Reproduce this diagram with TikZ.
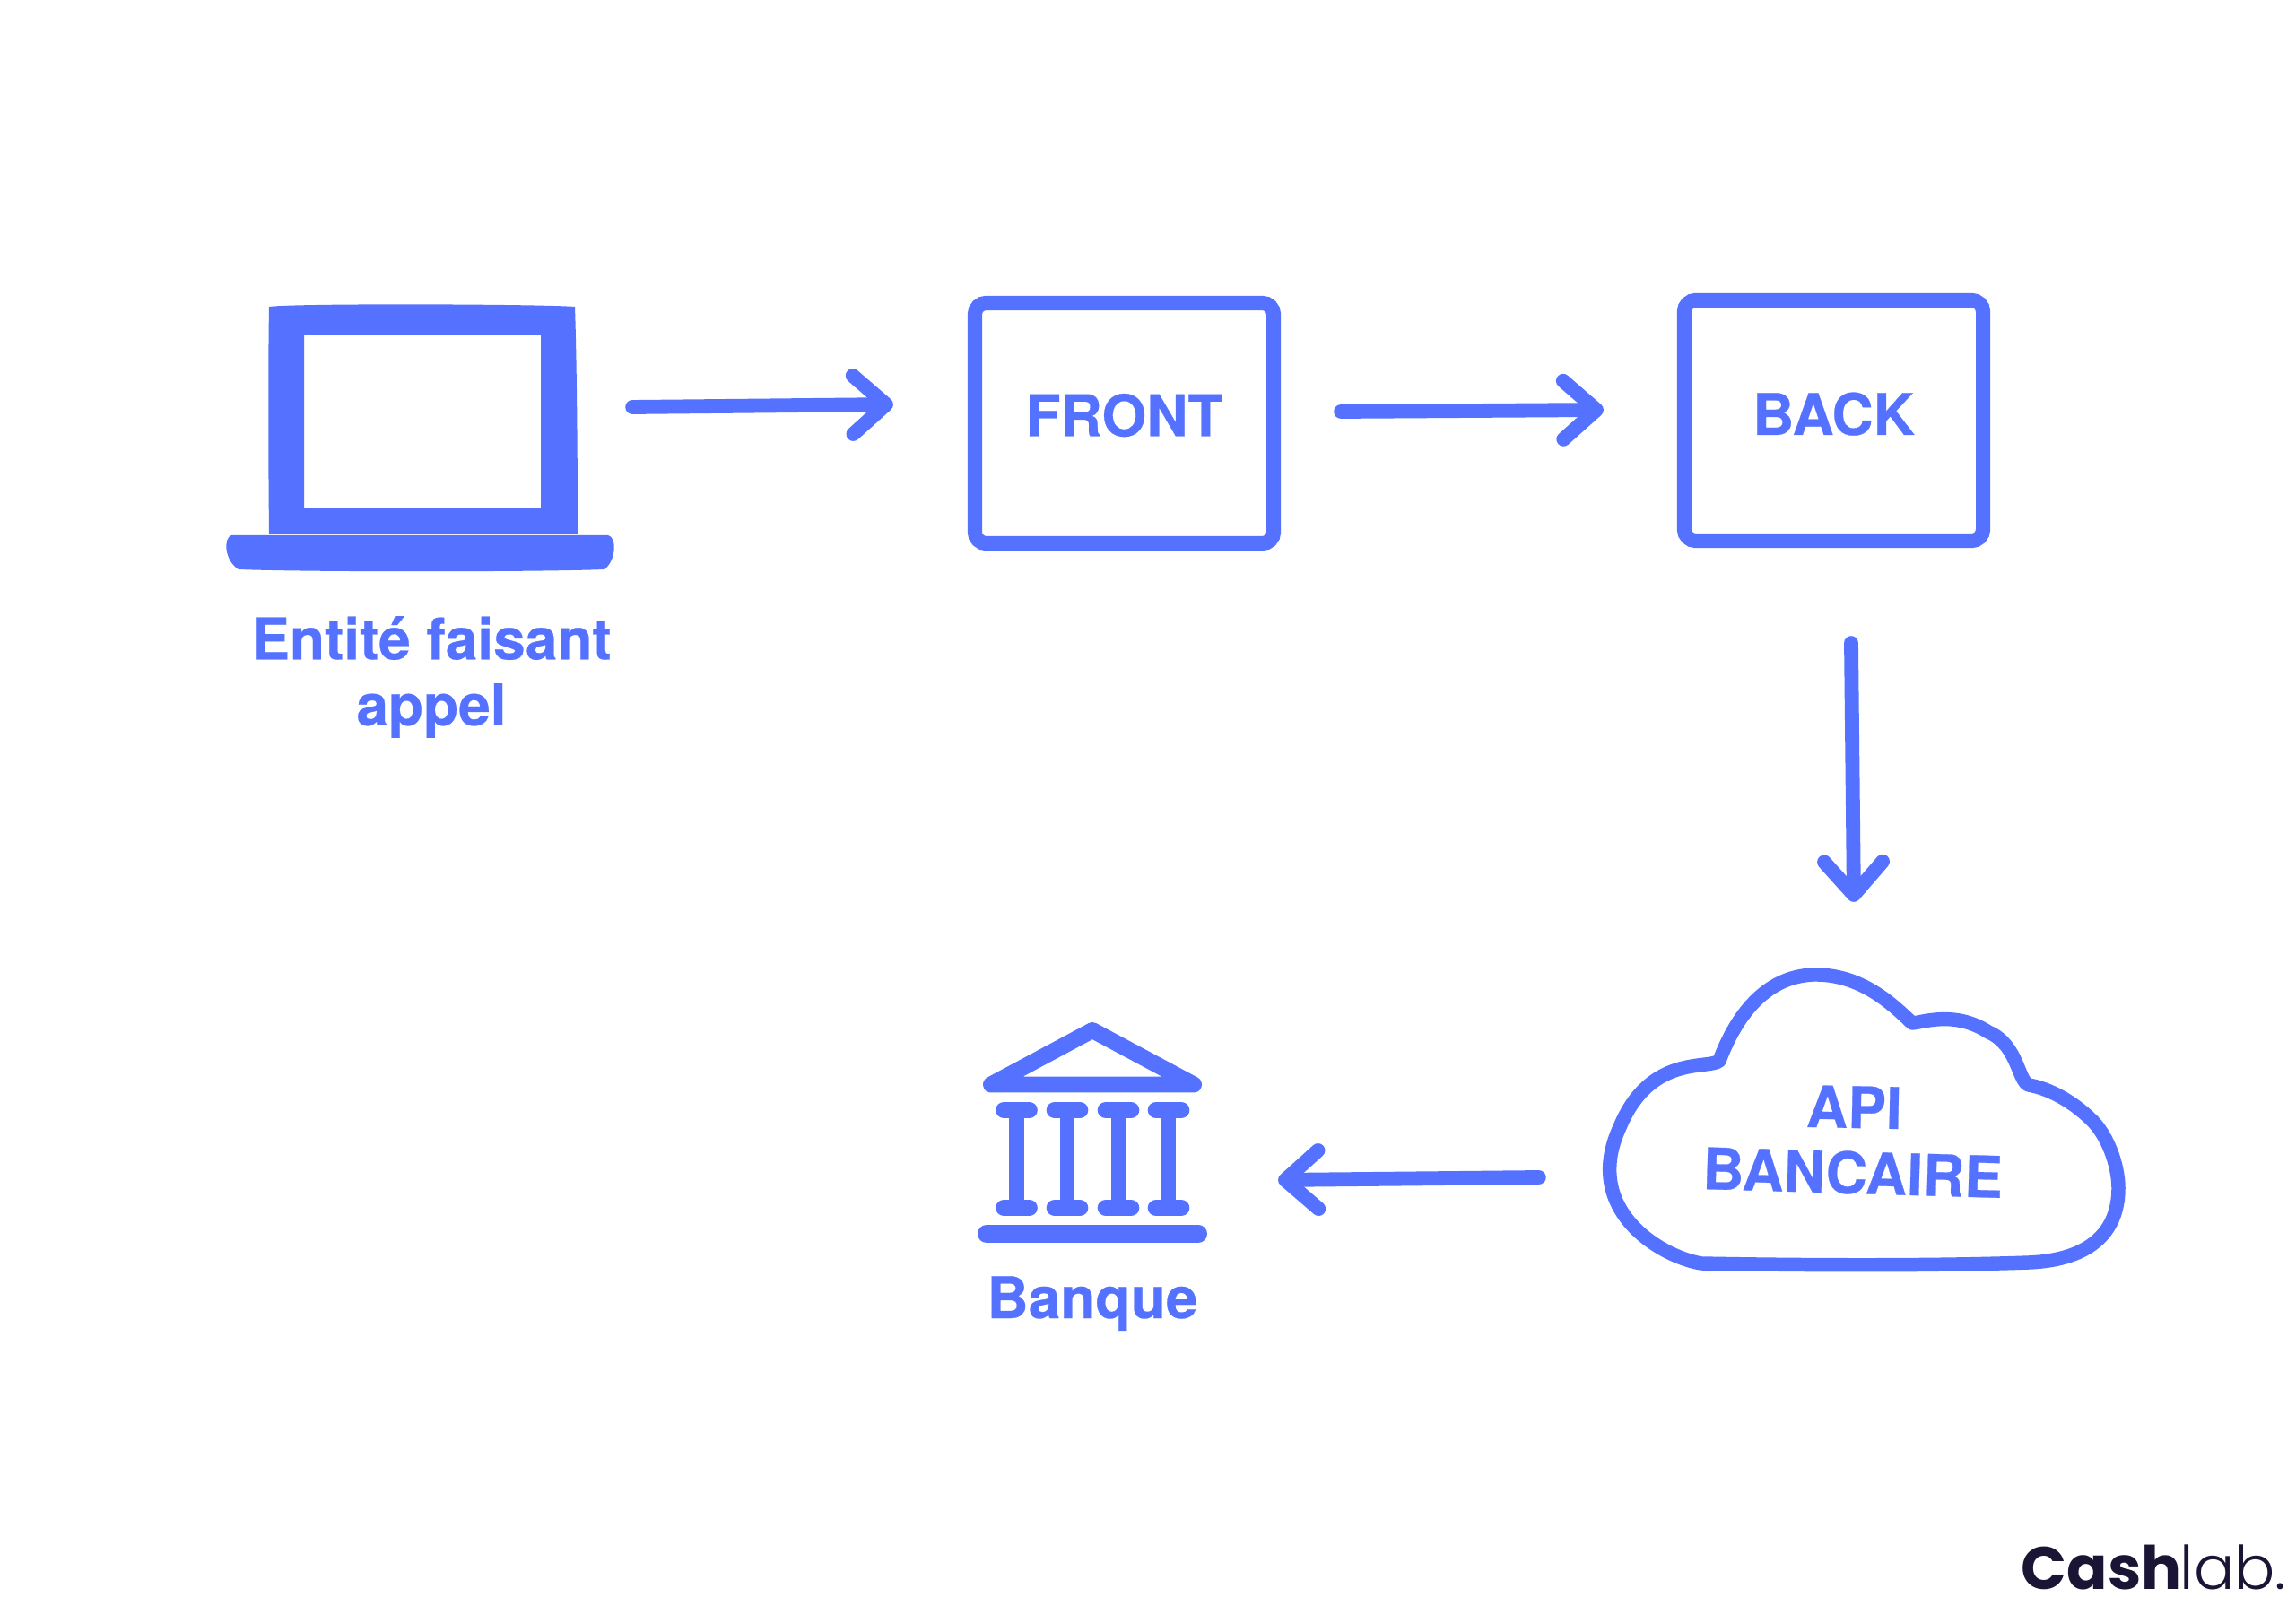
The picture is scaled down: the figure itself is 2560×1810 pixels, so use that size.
\documentclass[tikz,border=0pt]{standalone}
\usepackage{fontspec}
\usepackage{tikz}
\usetikzlibrary{arrows.meta,calc}
\setmainfont{TeX Gyre Heros}[BoldFeatures={FakeBold=0.4}]
\newfontfamily\logobold{Poppins}[BoldFont={Poppins Bold}]
\newfontfamily\logolight{Poppins Light}
\definecolor{cashblue}{HTML}{5472FF}
\definecolor{cashnavy}{HTML}{1A1535}
\tikzset{
  x=0.01cm,y=-0.01cm,
  arr/.style={draw=cashblue,line width=4.5pt,line cap=round,line join=round,
    -{Straight Barb[length=10.5pt,width=18.5pt,round,line width=4.5pt]}},
  boxnode/.style={draw=cashblue,line width=4.6pt,rounded corners=3.6pt,minimum width=3.33cm,minimum height=2.68cm,outer sep=0pt,inner sep=0pt,
    font=\bfseries\fontsize{18.2}{22}\selectfont,text=cashblue},
  holder/.style={minimum width=#1,inner sep=0pt,outer sep=0pt},
  lbl/.style={font=\bfseries\fontsize{18.2}{20.9}\selectfont,text=cashblue,inner sep=0pt,outer sep=0pt,align=center},
  icon/.style={fill=cashblue,draw=none},
  iconline/.style={draw=cashblue,line cap=round,line join=round}
}
\begin{document}
\begin{tikzpicture}
\useasboundingbox (0,0) rectangle (2560,1810);
\fill[white] (0,0) rectangle (2560,1810);

% Laptop
\node[holder=4.31cm,minimum height=2.97cm] (laptop) at (469.5,488.5) {};
\fill[icon,even odd rule] (300,342) .. controls (330,338) and (600,339) .. (641,342)
  .. controls (643,400) and (644,500) .. (644,595) -- (300,595)
  .. controls (299,500) and (299,400) .. (300,342) -- cycle
  (339,374) rectangle (603,566.5);
\fill[icon] (258,597) -- (678,597)
  .. controls (688,599) and (687,625) .. (674,635)
  .. controls (600,638) and (340,638) .. (266,635)
  .. controls (250,625) and (249,600) .. (258,597) -- cycle;
\node[lbl,anchor=center] (caller) at (481,755) {Entité faisant\\appel};

% Boxes
\node[boxnode] (front) at (1253.5,472) {\raisebox{-4.1pt}[0pt][0pt]{FRONT}};
\node[boxnode] (back) at (2044.5,469) {\raisebox{-4.55pt}[0pt][0pt]{BACK}};

% Cloud
\node[holder=5.86cm,minimum height=3.38cm] (cloud) at (2078,1248) {};
\draw[draw=cashblue,line width=4.4pt,line join=round]
  (1897,1409) .. controls (2000,1411) and (2150,1412) .. (2262,1408)
  .. controls (2335,1405) and (2362,1370) .. (2362,1325)
  .. controls (2362,1300) and (2350,1265) .. (2330,1247)
  .. controls (2310,1228) and (2285,1214) .. (2262,1210)
  .. controls (2250,1206) and (2250,1165) .. (2217,1151)
  .. controls (2180,1127) and (2145,1140) .. (2132,1141)
  .. controls (2110,1120) and (2075,1086) .. (2022,1087)
  .. controls (1967,1089) and (1935,1135) .. (1917,1183)
  .. controls (1905,1193) and (1840,1175) .. (1806,1257)
  .. controls (1763,1350) and (1853,1402) .. (1897,1409) -- cycle;
\node[lbl,rotate=-1.2,anchor=base] (apiA) at (2067,1258) {API};
\node[lbl,rotate=-1.7,anchor=base] (apiB) at (2065,1331) {BANCAIRE};

% Bank
\node[holder=2.56cm,minimum height=2.5cm] (bank) at (1217,1263) {};
\draw[iconline,line width=5.1pt] (1105,1209.5) -- (1218,1149) -- (1331,1209.5) -- cycle;
\foreach \cx in {1133.5,1190,1247,1303}{
  \draw[iconline,line width=4.8pt] (\cx,1247) -- (\cx,1340);
  \draw[iconline,line width=5.3pt] (\cx-14,1238) -- (\cx+14,1238);
  \draw[iconline,line width=5.3pt] (\cx-14,1347) -- (\cx+14,1347);
}
\draw[iconline,line width=5.7pt] (1100,1376) -- (1336,1376);
\node[lbl,anchor=base] (banklbl) at (1218,1470) {Banque};

% Connectors
\draw[arr] ($(laptop.east)+(20,-34.5)$) -- ($(front.west)+(-91,-21)$);
\draw[arr] ($(front.east)+(75,-13)$) -- ($(back.west)+(-90,-12)$);
\draw[arr] ($(back.south)+(19.5,114)$) -- ($(cloud.north)+(-11,-73)$);
\draw[arr] ($(cloud.west)+(-69,65)$) -- ($(bank.east)+(80,53)$);

% Logo
\node[anchor=base west,inner sep=0pt,text=cashnavy,font=\logobold\bfseries\fontsize{19}{24}\selectfont] (cash) at (2253,1772) {Cash};
\node[anchor=base west,inner sep=0pt,text=cashnavy,font=\logolight\fontsize{19.1}{24}\selectfont] (lab) at (2430,1772) {lab.};
\end{tikzpicture}
\end{document}
